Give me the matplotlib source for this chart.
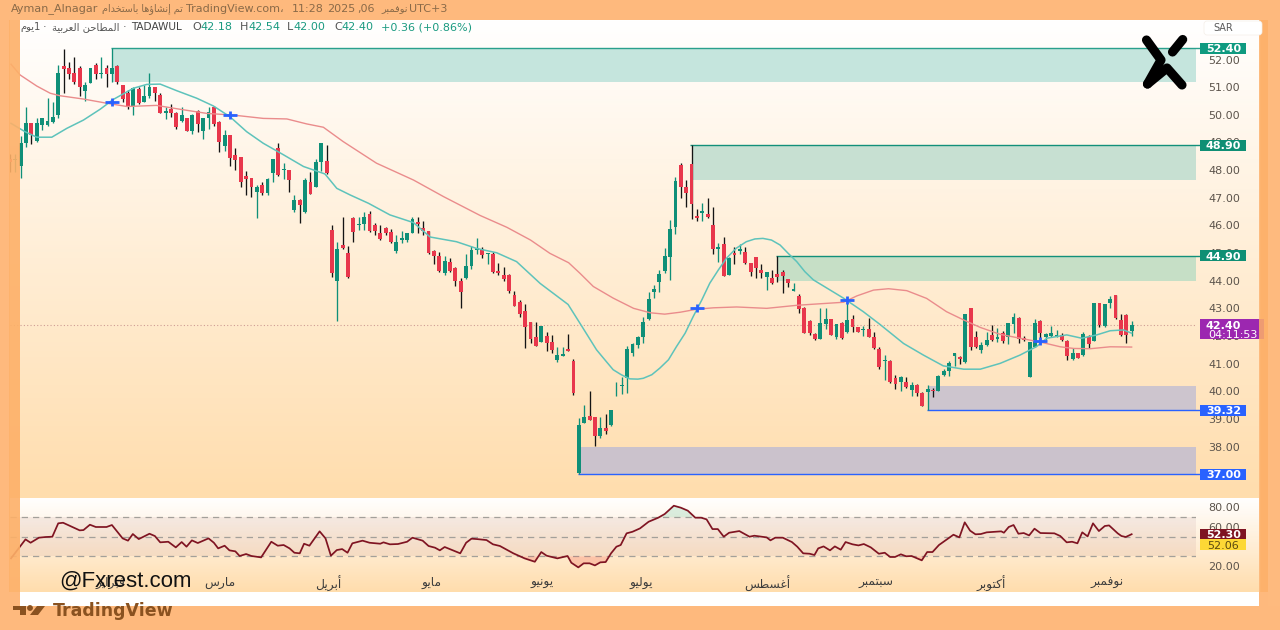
import numpy as np
import matplotlib
matplotlib.use("Agg")
import matplotlib.pyplot as plt
from matplotlib.patches import Rectangle, Polygon, FancyBboxPatch
from matplotlib.transforms import blended_transform_factory

# ---------- data ----------
first_bar = -2
opens = [48.40,48.35,
48.15,48.97,49.70,49.07,49.63,49.63,49.75,50.00,51.78,51.69,51.50,51.68,50.87,51.16,51.80,51.49,51.68,51.48,51.78,51.08,
50.80,50.32,50.93,50.48,50.68,50.99,50.70,50.08,50.20,50.08,49.79,49.88,49.43,50.13,49.43,49.87,50.29,49.74,48.87,49.27,
48.55,48.46,47.77,47.70,47.19,47.45,47.16,47.89,48.79,48.00,48.00,46.56,46.92,46.50,47.58,47.38,48.30,48.34,
45.83,43.99,45.29,44.99,46.25,46.00,46.05,46.43,46.00,45.71,45.92,45.77,45.07,45.49,45.47,45.74,46.11,45.89,45.80,45.06,
44.90,44.27,44.69,44.47,43.99,44.09,44.53,45.11,45.16,44.97,44.97,44.36,44.20,44.22,43.48,43.22,42.90,42.50,41.95,41.80,
42.01,41.80,41.13,41.29,41.52,41.08,
37.04,38.85,39.11,39.06,38.39,38.69,38.79,40.00,40.20,40.47,41.40,41.68,41.96,42.61,43.58,43.96,44.35,44.87,45.96,48.18,
47.40,48.22,46.34,46.46,46.41,46.02,45.14,45.34,44.21,44.99,45.09,45.05,44.63,44.85,44.39,44.12,44.09,44.25,44.30,44.05,
43.62,43.43,43.03,42.56,42.08,41.90,42.44,42.61,41.98,42.46,42.15,42.61,42.34,42.21,42.24,
41.95,41.53,41.11,41.11,40.47,40.34,40.35,40.05,40.23,39.95,39.97,40.06,40.02,40.58,40.75,41.28,41.23,41.06,43.00,41.98,
41.49,41.66,42.02,41.90,42.10,41.95,42.43,42.66,41.92,40.53,41.61,42.55,41.98,42.00,41.98,42.05,41.83,41.16,41.37,41.31,
41.95,41.82,43.18,42.36,43.18,43.48,42.58,42.77,42.18]
closes = [48.30,48.40,
48.97,49.70,49.27,49.70,49.87,49.79,49.93,51.50,51.66,51.48,51.18,51.00,51.08,51.68,51.48,51.52,51.48,51.68,51.20,50.56,
50.32,50.97,50.44,50.68,50.99,50.78,50.08,50.15,50.05,49.55,50.00,49.43,50.00,49.67,49.87,50.10,49.67,49.03,49.28,48.44,
48.37,47.58,47.69,47.38,47.40,47.16,47.67,48.39,47.83,48.03,47.65,46.92,46.73,47.65,47.14,48.30,48.99,47.91,
44.27,45.15,45.19,44.15,45.77,46.05,46.31,45.80,45.80,45.51,45.71,45.40,45.41,45.54,45.71,46.22,46.05,45.80,44.99,44.89,
44.36,44.71,44.34,43.99,43.58,44.54,45.11,45.17,44.93,44.99,44.33,44.29,44.05,43.63,43.10,42.78,42.31,41.89,41.64,42.37,
41.76,41.50,41.31,41.35,41.46,39.93,
38.79,39.06,38.97,38.39,38.69,38.58,39.33,40.02,40.22,41.52,41.70,41.97,42.52,43.33,43.69,44.26,44.90,45.87,47.62,47.38,
47.16,46.78,46.28,46.51,46.29,45.14,45.23,44.18,44.81,44.92,45.14,44.63,44.33,44.45,44.29,44.30,43.91,44.13,44.18,43.91,
43.69,42.97,42.12,42.10,41.88,42.46,42.61,42.04,42.43,41.92,42.58,42.32,42.16,42.27,41.98,
41.55,40.87,41.15,40.35,40.27,40.53,40.14,40.23,39.93,39.48,40.07,40.01,40.55,40.75,41.04,41.37,41.18,42.80,41.59,41.59,
41.67,41.86,41.86,41.97,41.81,42.46,42.67,41.88,41.86,41.78,42.48,42.10,42.07,42.12,42.04,41.84,41.29,41.40,41.22,42.07,
41.71,43.18,42.40,43.14,43.35,42.64,42.04,42.04,42.40]
highs = [48.60,48.60,
49.23,50.30,49.72,49.90,49.90,50.60,50.47,51.80,52.37,51.92,52.08,51.77,51.20,51.68,51.89,52.08,51.79,52.40,51.79,51.08,
50.90,50.99,50.99,51.08,51.50,51.00,50.78,50.27,50.39,50.10,50.30,49.90,50.03,50.18,49.90,50.27,50.32,49.79,49.45,49.27,
48.79,48.46,47.95,47.70,47.46,47.58,47.70,48.39,48.97,48.25,48.00,47.10,46.95,47.70,47.94,48.39,48.99,48.91,
46.01,45.41,46.31,45.25,46.31,46.31,46.50,46.53,46.07,46.01,45.95,45.86,45.65,45.81,45.71,46.31,46.31,46.16,45.81,45.11,
45.05,44.89,44.81,44.51,44.09,44.97,45.27,45.56,45.21,44.99,45.05,44.63,44.48,44.24,43.64,43.30,43.16,42.50,42.52,42.37,
42.16,42.03,41.59,41.62,42.07,41.16,
39.03,39.51,40.02,39.06,39.06,39.17,39.33,40.33,40.51,41.64,41.74,42.00,42.67,43.58,43.85,44.37,45.17,46.20,47.76,48.27,
47.64,48.90,46.60,46.80,47.00,46.68,45.35,45.57,44.84,45.21,45.33,45.21,44.65,44.87,44.60,44.30,44.39,44.90,44.39,44.06,
43.93,43.51,43.04,42.58,42.10,43.00,43.03,42.63,42.44,42.52,43.18,42.76,42.34,42.37,42.64,
42.16,41.61,41.31,41.13,40.59,40.55,40.51,40.35,40.25,39.96,40.23,40.11,40.59,40.80,41.10,41.40,41.28,42.80,43.00,42.19,
41.80,42.16,42.40,42.28,42.19,42.48,42.82,42.67,42.01,41.78,42.61,42.58,42.10,42.36,42.22,42.10,41.86,41.55,41.40,42.16,
42.04,43.20,43.18,43.16,43.45,43.48,42.80,42.80,42.54]
lows = [47.93,47.92,
47.70,48.85,48.95,49.03,49.45,49.60,49.72,49.90,50.80,51.30,51.10,50.68,50.50,51.14,51.28,51.32,51.00,51.20,51.10,50.48,
50.20,50.00,50.39,50.46,50.60,50.50,50.05,49.84,49.93,49.50,49.75,49.40,49.30,49.39,49.11,49.47,49.60,48.66,48.70,48.16,
48.00,47.38,47.10,47.02,46.26,47.10,47.10,47.58,47.80,47.68,47.19,46.50,46.08,46.46,47.14,47.38,47.98,47.86,
44.15,42.56,45.13,44.11,45.41,45.83,45.83,45.77,45.65,45.47,45.65,45.37,45.01,45.35,45.41,45.74,45.71,45.65,44.97,44.60,
44.33,44.20,44.33,43.81,43.03,44.06,44.41,44.97,44.81,44.60,44.27,44.21,44.00,43.57,43.09,42.68,41.58,41.74,41.64,41.77,
41.47,41.37,41.07,41.28,41.46,39.87,
37.00,38.85,38.97,38.03,38.31,38.46,38.75,39.84,39.90,39.93,41.26,41.56,41.74,42.58,43.39,43.58,44.27,44.03,45.69,47.00,
46.68,46.22,46.17,46.17,46.25,44.96,44.69,44.18,44.21,44.61,44.97,44.60,44.18,44.11,44.11,43.67,43.87,43.97,43.57,43.76,
43.61,42.82,42.10,42.04,41.86,41.88,42.25,42.02,41.88,41.88,42.12,42.16,42.15,42.00,41.98,
41.52,40.80,40.41,40.31,40.07,40.02,40.11,39.83,39.83,39.47,39.32,39.78,40.02,40.55,40.55,40.91,40.99,41.04,41.49,41.58,
41.37,41.64,41.83,41.80,41.76,41.71,42.12,41.76,41.83,40.51,41.59,41.73,41.86,41.95,41.95,41.82,41.13,41.13,41.19,41.29,
41.55,41.82,42.34,42.34,43.00,42.60,42.00,41.74,42.00]

ma_fast_x = [-1.8,0.8,3,5.8,8.6,11.7,14.8,17.3,21,23.5,26,29.1,32.8,35.9,39,42.1,45.2,49,52.7,56.7,58.9,61.4,64.8,68.8,73.2,76.3,81.2,84.9,88.7,92.4,96.8,102,104.5,107.3,109.1,110.4,111.9,113.5,115,116,117.6,119.1,120.7,122.2,123.8,125.3,126.9,128.4,130,131.5,133.3,135.2,136.8,138.3,139.9,141.5,143,144.6,146.1,147.7,153.3,157,160.1,164.5,168.2,171.9,175.7,178.8,182.5,186.2,189.3,191.2,194.9,197.7,200.5,203,205.5,207]
ma_fast_y = [49.69,49.39,49.19,49.19,49.51,49.81,50.20,50.56,50.96,51.10,51.11,50.87,50.60,50.32,49.93,49.39,48.97,48.55,48.13,47.86,47.34,47.10,46.80,46.38,46.10,45.58,45.41,45.17,45.01,44.69,43.90,43.14,42.37,41.50,41.08,40.78,40.60,40.45,40.44,40.47,40.60,40.84,41.14,41.62,42.10,42.70,43.30,43.91,44.39,44.81,45.17,45.41,45.51,45.53,45.47,45.29,44.99,44.69,44.33,44.03,43.37,42.88,42.42,41.73,41.31,40.92,40.80,40.80,41.01,41.31,41.62,41.92,42.04,41.92,42.04,42.19,42.22,42.10]
ma_slow_x = [-1.8,-0.1,3,5.5,7.3,11.7,16,19.8,25.3,29.7,34.7,39.6,45.2,49.6,53.3,56.4,60.1,66.3,73.2,78.8,85.6,90.6,95,98.6,102.1,104.2,106.7,110.4,114.2,117.3,120,122.9,126,129.1,133.4,139,144.6,147.7,153.3,155.8,158.9,161.7,165.1,168.8,172.5,175.7,178.8,182.5,186.2,190,193.7,196.2,199.3,203,207]
ma_slow_y = [51.83,51.44,51.04,50.78,50.69,50.57,50.42,50.30,50.34,50.20,50.05,49.99,49.87,49.85,49.67,49.55,49.03,48.25,47.64,47.04,46.36,45.93,45.47,44.99,44.65,44.27,43.79,43.37,43.00,42.84,42.79,42.86,42.97,43.02,43.05,43.00,43.11,43.15,43.22,43.45,43.66,43.71,43.64,43.36,42.88,42.58,42.31,42.06,41.92,41.78,41.61,41.55,41.54,41.61,41.60]

rsi_x = [-1.8,0.9,1.85,3.4,4.7,5.9,7,7.9,9.5,11,11.7,12.9,14,16,17,19,20,20.9,22,24,25,26,27.5,28.9,30,30.9,31.9,33,35,36,36.8,38,38.9,40,40.8,42,43,44.8,46.7,47.9,49,50.1,51,52,52.8,53.8,55.7,56.8,57.8,58.9,59.9,60.9,61.8,63.7,65,67,67.6,68.8,70.3,72,73,74.9,76,77.2,78.1,79,81.9,83,84,85,86.8,88,89.3,91.8,93.9,95.8,97,98,100,101.9,102.6,103.9,104.9,106,107,108,109,110,111,111.8,112.9,114,115.4,
117,118.8,120,121.7,123,124.3,125.7,126.8,127.8,128.9,129.9,131,132,133.9,135.8,136.7,139,139.7,140.6,142,143.7,144.7,145.8,147,147.9,148.6,149.6,150.8,151.7,152.8,153.7,155,156.1,157.1,158.4,159.9,161,162,162.9,164,165,166,167.9,168.9,169.9,171.1,173.8,174.9,175.9,176.9,177.9,178.9,180,182.7,183.2,184.1,185,185.9,186.9,187.9,188.9,190,192.6,193.7,194.9,195.9,196.9,197.8,198.8,199.8,200.9,202,202.8,204.4,205.1,205.9,207]
rsi_y = [27.9,47.1,43.7,48.8,49.5,49.8,63.3,63.9,59.9,56.2,56.5,61.9,59.6,59.6,61.6,48.1,45.8,52.5,47.4,52.8,50.5,44.1,44.7,39,44.4,39.7,46.1,43.4,48.1,43.7,38,40.7,36,35,30.3,32.3,30.3,28.9,44.7,40.7,41.4,38,33.6,33,42.7,40.7,55.2,48.1,30.6,36.3,37.3,33.6,43.1,45.8,43.7,42.7,44.1,42.1,42.4,44.7,48.8,45.8,40.4,38.7,36,39.4,33,43.7,47.8,47.4,46.4,42.1,40.4,33,27.9,24.5,34.3,30.6,27.9,30.3,23.5,18.8,22.9,22.9,20.8,23.9,24.2,33,39.7,41.4,53.2,54.8,58.2,
64.9,69,72.7,81.1,79.1,76.1,69,69,67.3,57.5,57.5,49.8,53.8,55.5,49.8,50.8,49.1,46.1,48.8,48.8,44.4,39.7,33,32.6,31.3,38,40,36,40,36.7,44.4,42.1,41,42.4,39,32.6,33.6,29.3,29.3,32,30,30.3,25.9,34.3,34.3,41.4,51.8,49.1,64.3,55.9,52.2,52.5,54.2,55.2,53.8,59.6,61.6,52.8,53.5,51.1,57.9,53.5,53.2,50.5,44.1,44.7,43.1,54.2,50.1,63.3,55.5,60.6,61.2,53.2,50.5,49.5,52.3]
rsi_levels = [70, 50, 30]
rsi_ticks = [80, 60, 40, 20]
rsi_tick_labels = ["80.00", "60.00", "", "20.00"]

cross_x = [17, 39, 126, 154, 190]
cross_y = [50.47, 50.00, 43.00, 43.30, 41.82]

zone_start = [17, 125, 141, 169, 104]
zone_top = [52.40, 48.90, 44.90, 40.18, 37.98]
zone_bottom = [51.20, 47.63, 44.00, 39.32, 37.00]
zone_fill = ["#c5e5dd", "#c7e0d2", "#c6dfc6", "#cdc5ce", "#cbc2cc"]
zone_edge_level = [52.40, 48.90, 44.90, 39.32, 37.00]
zone_edge_color = ["#2aa08c", "#12907a", "#12907a", "#2962ff", "#2962ff"]

price_ticks = [52,51,50,49,48,47,46,45,44,43,42,41,40,39,38,37]
last_price = 42.40
countdown = "04:11:53"

month_pos = [16.8, 37.1, 57.3, 76.6, 97.1, 115.6, 139.2, 159.4, 180.8, 202.4]
month_labels = ["فبراير","مارس","أبريل","مايو","يونيو","يوليو","أغسطس","سبتمبر","أكتوبر","نوفمبر"]

# ---------- Arabic shaping (matplotlib has no bidi / joining) ----------
DUAL = {'ب':0xFE8F,'ت':0xFE95,'ث':0xFE99,'ج':0xFE9D,'ح':0xFEA1,'خ':0xFEA5,'س':0xFEB1,'ش':0xFEB5,'ص':0xFEB9,'ض':0xFEBD,
        'ط':0xFEC1,'ظ':0xFEC5,'ع':0xFEC9,'غ':0xFECD,'ف':0xFED1,'ق':0xFED5,'ك':0xFED9,'ل':0xFEDD,'م':0xFEE1,'ن':0xFEE5,
        'ه':0xFEE9,'ي':0xFEF1}
RIGHT = {'ا':0xFE8D,'أ':0xFE83,'إ':0xFE87,'ؤ':0xFE85,'د':0xFEA9,'ذ':0xFEAB,'ر':0xFEAD,'ز':0xFEAF,'و':0xFEED,'ة':0xFE93}
def shape(s):
    out = []
    for k, c in enumerate(s):
        p = s[k-1] if k else ''
        n = s[k+1] if k+1 < len(s) else ''
        before = p in DUAL
        after = c in DUAL and (n in DUAL or n in RIGHT)
        if c in DUAL:
            out.append(chr(DUAL[c] + (3 if before and after else 2 if after else 1 if before else 0)))
        elif c in RIGHT:
            out.append(chr(RIGHT[c] + (1 if before else 0)))
        else:
            out.append(c)
    return ''.join(reversed(out))

# ---------- layout ----------
W, H = 1280, 630
px_left, px_right, px_top, px_mid, px_bot = 10, 1196, 20, 498, 592
bar0, bar_step = 20.67, 5.367
y52, y_per_unit = 59.5, 27.65
GREEN, RED, BLUE = "#0f8f78", "#e8374c", "#2962ff"
TXT = "#5c544c"

plt.rcParams['font.family'] = ['DejaVu Sans']
fig = plt.figure(figsize=(W/100, H/100), dpi=100)
fig.patch.set_facecolor("#feb97d")

def rect(l, t, r, b):
    return [l/W, 1-b/H, (r-l)/W, (b-t)/H]

ax_bg = fig.add_axes([0,0,1,1], zorder=0)
ax_bg.set_xlim(0, W); ax_bg.set_ylim(H, 0); ax_bg.axis('off')
ax_bg.add_patch(Rectangle((0,0), W, H, color="#feb97d"))
ax_bg.add_patch(Rectangle((10,20), 1249, 586, color="#ffffff"))
frac = np.linspace(0, 1, 256)[:, None, None]
grad = (np.array([255, 255, 255]) * (1-frac) + np.array([255, 221, 173]) * frac).astype(np.uint8)
ax_bg.imshow(grad, extent=(10,1259,px_mid,px_top), aspect='auto', interpolation='bilinear', zorder=1)
ax_bg.imshow(grad, extent=(10,1259,px_bot,px_mid), aspect='auto', interpolation='bilinear', zorder=1)
ax_bg.set_xlim(0, W); ax_bg.set_ylim(H, 0)

ax = fig.add_axes(rect(px_left, px_top, px_right, px_mid), zorder=2)
ax.patch.set_alpha(0)
ax.set_xlim((px_left-bar0)/bar_step, (px_right-bar0)/bar_step)
ax.set_ylim(52-(px_mid-y52)/y_per_unit, 52-(px_top-y52)/y_per_unit)
for s in ax.spines.values():
    s.set_visible(False)
ax.yaxis.tick_right()
ax.set_yticks(price_ticks, [f"{v:.2f}" for v in price_ticks])
ax.tick_params(axis='y', length=0, pad=8.6, labelsize=8, labelcolor=TXT)
ax.tick_params(axis='x', length=0, labelbottom=False)

def xfrac(px):
    return (px-px_left)/(px_right-px_left)
tr = blended_transform_factory(ax.transAxes, ax.transData)

# zones
xmax = ax.get_xlim()[1]
for st, top_, bot, fc, lvl, ec in zip(zone_start, zone_top, zone_bottom, zone_fill, zone_edge_level, zone_edge_color):
    ax.add_patch(Rectangle((st, bot), xmax-st, top_-bot, facecolor=fc, edgecolor='none', zorder=1))
    ax.plot([st-0.2, xmax+0.8], [lvl, lvl], color=ec, lw=1.0, zorder=2, clip_on=False, solid_capstyle='butt')

# last price dotted line
ax.axhline(last_price, color="#cf9c94", lw=0.8, ls=(0, (1, 2)), zorder=2)

# candles
bars = np.arange(first_bar, first_bar+len(opens))
o, c, h_, l_ = map(np.array, (opens, closes, highs, lows))
up = c >= o
ax.vlines(bars[up], l_[up], h_[up], color=GREEN, lw=0.95, zorder=3)
ax.vlines(bars[~up], l_[~up], h_[~up], color="#141414", lw=0.95, zorder=3)
ax.bar(bars[up], (c-o)[up], bottom=o[up], width=0.72, color=GREEN, zorder=4, linewidth=0)
ax.bar(bars[~up], (c-o)[~up], bottom=o[~up], width=0.72, color=RED, zorder=4, linewidth=0)

# moving averages
ax.plot(ma_slow_x, ma_slow_y, color="#ea8c8c", lw=1.0, zorder=5, solid_joinstyle='round')
ax.plot(ma_fast_x, ma_fast_y, color="#5ec3bb", lw=1.1, zorder=5, solid_joinstyle='round')
ax.plot(cross_x, cross_y, ls='none', marker='_', ms=9.5, mew=2.0, mec=BLUE, zorder=6)
ax.plot(cross_x, cross_y, ls='none', marker='|', ms=6, mew=2.0, mec=BLUE, zorder=6)

# price axis labels
def axis_label(axes, value, text, color, tcolor="white", height=None):
    t = blended_transform_factory(axes.transAxes, axes.transData)
    unit = (axes.get_ylim()[1]-axes.get_ylim()[0])/axes.get_window_extent().height
    hgt = (height or 11)*unit
    axes.add_patch(Rectangle((xfrac(1200), value-hgt/2), xfrac(1246)-xfrac(1200), hgt, transform=t,
                             facecolor=color, edgecolor='none', zorder=8, clip_on=False))
    axes.text(xfrac(1223.5), value, text, transform=t, ha='center', va='center_baseline', color=tcolor,
              fontsize=8, fontweight='bold' if tcolor == "white" else 'normal', zorder=9, clip_on=False)

for lvl, col in zip(zone_edge_level, ["#0f9a80", "#0f8f74", "#0f8f74", BLUE, BLUE]):
    axis_label(ax, lvl, f"{lvl:.2f}", col)

unit = (ax.get_ylim()[1]-ax.get_ylim()[0])/ax.get_window_extent().height
ax.add_patch(Rectangle((xfrac(1200), last_price-14*unit), xfrac(1264)-xfrac(1200), 19.5*unit,
                       transform=tr, facecolor="#9c27b0", edgecolor='none', zorder=8, clip_on=False))
ax.text(xfrac(1223.5), last_price, f"{last_price:.2f}", transform=tr, ha='center', va='center_baseline',
        color='white', fontsize=8, fontweight='bold', zorder=9, clip_on=False)
ax.text(xfrac(1233), last_price-9*unit, countdown, transform=tr, ha='center', va='center_baseline',
        color='white', fontsize=8, zorder=9, clip_on=False)

# RSI pane
rsi_per_px = 0.99
axr = fig.add_axes(rect(px_left, px_mid, px_right, px_bot), zorder=2)
axr.patch.set_alpha(0)
axr.set_xlim(ax.get_xlim())
axr.set_ylim(70-(px_bot-516.7)/rsi_per_px, 70+(516.7-px_mid)/rsi_per_px)
for s in axr.spines.values():
    s.set_visible(False)
axr.axhspan(rsi_levels[2], rsi_levels[0], color="#7a2440", alpha=0.07, lw=0, zorder=1)
for lv in rsi_levels:
    axr.axhline(lv, color="#a3a09a", lw=0.9, ls=(0, (5, 4)), zorder=2)
rx, ry = np.array(rsi_x), np.array(rsi_y)
axr.fill_between(rx, ry, 70, where=ry >= 70, color="#36b37e", alpha=0.18, lw=0, zorder=2, interpolate=True)
axr.fill_between(rx, ry, 30, where=ry <= 30, color="#f44336", alpha=0.22, lw=0, zorder=2, interpolate=True)
axr.plot(rx, ry, color="#7f1422", lw=1.25, zorder=4, solid_joinstyle='round')
axr.yaxis.tick_right()
axr.set_yticks(rsi_ticks, rsi_tick_labels)
axr.tick_params(axis='y', length=0, pad=8.6, labelsize=8, labelcolor=TXT)
axr.set_xticks(month_pos, [shape(m) for m in month_labels])
axr.tick_params(axis='x', length=0, pad=-11.5, labelsize=8.8, labelcolor="#3c3c3c")
axis_label(axr, rsi_y[-1], "52.30", "#7f1422")
axis_label(axr, 41.86, "52.06", "#fdd835", tcolor="#5c4a10", height=10.5)

# overlay frame, header, logos
top = fig.add_axes([0,0,1,1], zorder=5)
top.patch.set_alpha(0)
top.set_xlim(0, W); top.set_ylim(H, 0); top.axis('off')
for (x, y, w, hh, col, a) in [(0,0,W,20,"#feb97d",1),(0,20,9,586,"#feb97d",1),(9,20,11,572,"#fdb068",0.9),
                               (9,592,11,14,"#feb97d",1),(1259,20,9,572,"#fdb068",0.85),(1268,20,12,586,"#feba7e",1),
                               (1259,592,9,14,"#feb97d",1),(0,606,W,24,"#feb97d",1)]:
    top.add_patch(Rectangle((x,y), w, hh, facecolor=col, edgecolor='none', alpha=a, zorder=1))

HDR = "#8a6a48"
for x, s, fs in [(11,"Ayman_Alnagar",8),(102,shape("تم إنشاؤها باستخدام"),6.9),(186,"TradingView.com،",8),(292,"11:28",8),
             (327,"2025",8),(357,",06",8),(381,shape("نوفمبر"),7),(409,"UTC+3",8)]:
    top.text(x, 9, s, fontsize=fs, color=HDR, va='center', ha='left', zorder=3)

top.text(20, 27, shape("1يوم"), fontsize=7.2, color="#555555", va='center', zorder=3)
top.text(43, 27, "·", fontsize=8, color="#555555", va='center', zorder=3)
top.text(52, 27, shape("المطاحن العربية"), fontsize=7.2, color="#555555", va='center', zorder=3)
top.text(123, 27, "·", fontsize=8, color="#555555", va='center', zorder=3)
top.text(131, 27, "TADAWUL", fontsize=7.6, color="#444444", va='center', zorder=3)
for x, a, b in [(192,"O","42.18"),(240,"H","42.54"),(287,"L","42.00"),(334,"C","42.40")]:
    t1 = top.text(x, 27, a, fontsize=8, color="#555555", va='center', zorder=3)
    bb = t1.get_window_extent(fig.canvas.get_renderer())
    top.text(x+bb.width, 27, b, fontsize=8, color="#1a9a80", va='center', zorder=3)
top.text(381, 27, "+0.36 (+0.86%)", fontsize=8, color="#1a9a80", va='center', zorder=3)

top.add_patch(FancyBboxPatch((1205,22), 56, 12, boxstyle="round,pad=1,rounding_size=3", facecolor="white",
                             edgecolor="#f4eee8", lw=0.5, zorder=2))
top.text(1223, 28, "SAR", fontsize=7, color="#5a5a5a", ha='center', va='center', zorder=3)

# X watermark
for xs, ys in [([1146.5,1161,1147.5],[40,60,84]), ([1147.5,1167,1182],[84,68,85]), ([1172.5,1182.7],[52,39.5])]:
    top.plot(xs, ys, color="black", lw=6.6, solid_capstyle='round', solid_joinstyle='round', zorder=4)

top.text(59, 581, "@Fxrest.com", family="Liberation Sans", fontsize=16, color="#111111", va='center', zorder=4)

# TradingView logo
TV = "#8a5220"
top.add_patch(Polygon([(13,606),(26,606),(26,615),(20,615),(20,610),(13,610)], facecolor=TV, edgecolor='none', zorder=3))
top.add_patch(plt.Circle((30,608), 2.2, color=TV, zorder=3))
top.add_patch(Polygon([(37,606),(45,606),(38,615),(30,615)], facecolor=TV, edgecolor='none', zorder=3))
top.text(53, 611, "TradingView", fontsize=12.5, fontweight='bold', color=TV, va='center', zorder=3)

fig.savefig("out.png", dpi=100)
